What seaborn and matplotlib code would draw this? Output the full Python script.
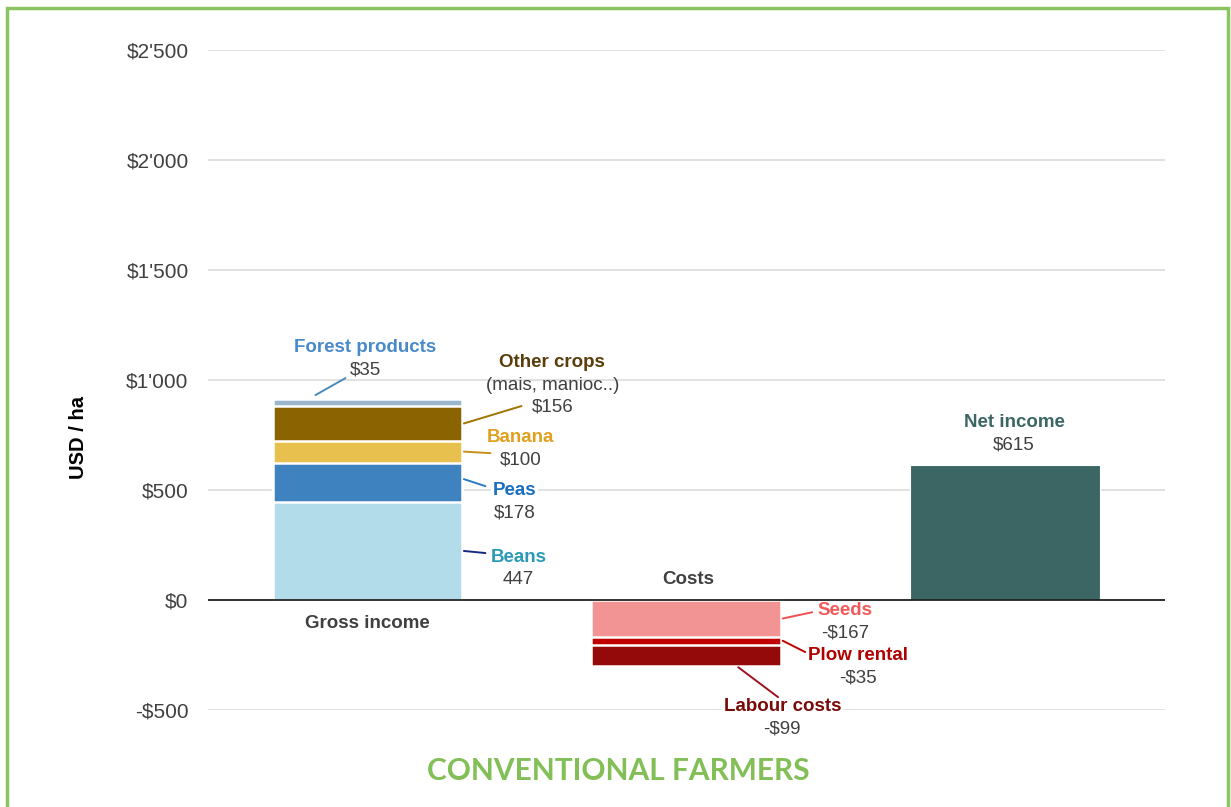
import numpy as np
import pandas as pd
import matplotlib
matplotlib.use("Agg")
import matplotlib.pyplot as plt
from matplotlib.patches import Rectangle
from matplotlib.ticker import FuncFormatter
import seaborn as sns

# ---- data ----
categories = ["Gross income", "Costs", "Net income"]
gross_labels = ["Beans", "Peas", "Banana", "Other crops", "Forest products"]
gross_values = [447, 178, 100, 156, 35]
gross_value_text = ["447", "$178", "$100", "$156", "$35"]
cost_labels = ["Seeds", "Plow rental", "Labour costs"]
cost_values = [-167, -35, -99]
net_label = "Net income"
net_value = 615
y_ticks = [-500, 0, 500, 1000, 1500, 2000, 2500]

# ---- styles ----
gross_colors = ["#b3dcea", "#3f82c0", "#e8c04e", "#8b6300", "#9ab6cc"]
gross_text_colors = ["#2a9ab8", "#1a6fc0", "#e0a020", "#5a3d0a", "#4a8ac9"]
gross_line_colors = ["#1a2a80", "#2a7ac8", "#c8901a", "#a07400", "#4a8ab8"]
cost_colors = ["#f29494", "#c00000", "#940a0a"]
cost_text_colors = ["#f05a5a", "#b00000", "#7a0a0a"]
cost_line_colors = ["#f05050", "#c00000", "#a01020"]
net_color = "#3b6664"
gray = "#404040"

sns.set_theme(style="white")
plt.rcParams["font.family"] = ["Liberation Sans", "DejaVu Sans"]

fig = plt.figure(figsize=(12.31, 8.07), dpi=100)
ax = fig.add_axes([0.169, 0.120, 0.777, 0.818])

BW = 0.595
# gross income stacked: draw cumulative totals from the top down
gross_cum = np.cumsum(gross_values)
for i in reversed(range(len(gross_values))):
    df = pd.DataFrame({"cat": [categories[0]], "val": [gross_cum[i]]})
    sns.barplot(data=df, x="cat", y="val", order=categories, color=gross_colors[i],
                saturation=1, width=BW, edgecolor="white", linewidth=1.8,
                errorbar=None, ax=ax)

cost_cum = np.cumsum(cost_values)
for i in reversed(range(len(cost_values))):
    df = pd.DataFrame({"cat": [categories[1]], "val": [cost_cum[i]]})
    sns.barplot(data=df, x="cat", y="val", order=categories, color=cost_colors[i],
                saturation=1, width=BW, edgecolor="white", linewidth=1.8,
                errorbar=None, ax=ax)

df = pd.DataFrame({"cat": [categories[2]], "val": [net_value]})
sns.barplot(data=df, x="cat", y="val", order=categories, color=net_color,
            saturation=1, width=BW, edgecolor="white", linewidth=0.8,
            errorbar=None, ax=ax)

# ---- axes styling ----
ax.set_xlim(-0.5, 2.5)
ax.set_ylim(-500, 2500)
ax.set_yticks(y_ticks)

def fmt(v, pos):
    v = int(round(v))
    s = f"{abs(v):,}".replace(",", "'")
    return f"-${s}" if v < 0 else f"${s}"

ax.yaxis.set_major_formatter(FuncFormatter(fmt))
ax.set_xticks([])
ax.set_xlabel("")
ax.set_ylabel("")
ax.tick_params(axis="y", left=False, pad=8, labelsize=15, labelcolor=gray)
for s in ax.spines.values():
    s.set_visible(False)
ax.yaxis.grid(True, color="#d9d9d9", linewidth=1.1)
ax.set_axisbelow(True)
ax.axhline(0, color="#222222", linewidth=1.3, zorder=5)

# ---- annotations ----
name_fs = 13.5
val_fs = 13.5

def label(anchor, line_end, name_pos, val_pos, name, val, tcolor, lcolor, extra=None, box=False):
    if anchor is not None:
        ax.plot([anchor[0], line_end[0]], [anchor[1], line_end[1]], color=lcolor,
                linewidth=1.4, zorder=6)
    kw = {}
    if box:
        kw["bbox"] = dict(facecolor="white", edgecolor="none", pad=1.5)
    ax.text(name_pos[0], name_pos[1], name, color=tcolor, fontsize=name_fs,
            fontweight="bold", ha="center", va="center", zorder=4, **kw)
    if extra is not None:
        ax.text(extra[0][0], extra[0][1], extra[1], color=gray, fontsize=val_fs,
                ha="center", va="center", zorder=7)
    ax.text(val_pos[0], val_pos[1], val, color=gray, fontsize=val_fs,
            ha="center", va="center", zorder=7)

edge = BW / 2
gross_bottoms = np.concatenate([[0], gross_cum[:-1]])
gross_mids = gross_bottoms + np.array(gross_values) / 2

# Beans
label((edge + 0.005, gross_mids[0]), (0.37, 214), (0.473, 195), (0.473, 95),
      gross_labels[0], gross_value_text[0], gross_text_colors[0], gross_line_colors[0])
# Peas
label((edge + 0.005, gross_mids[1] + 14), (0.37, 518), (0.461, 500), (0.461, 395),
      gross_labels[1], gross_value_text[1], gross_text_colors[1], gross_line_colors[1], box=True)
# Banana
label((edge + 0.005, gross_mids[2]), (0.386, 668), (0.48, 741), (0.48, 636),
      gross_labels[2], gross_value_text[2], gross_text_colors[2], gross_line_colors[2])
# Other crops
label((edge + 0.005, gross_mids[3]), (0.483, 882), (0.58, 1082), (0.58, 877),
      gross_labels[3], gross_value_text[3], gross_text_colors[3], gross_line_colors[3],
      extra=((0.58, 977), "(mais, manioc..)"))
# Forest products
label((-0.163, gross_cum[-1] + 16), (-0.069, 1009), (-0.006, 1150), (-0.006, 1045),
      gross_labels[4], gross_value_text[4], gross_text_colors[4], gross_line_colors[4])

cost_bottoms = np.concatenate([[0], cost_cum[:-1]])
cost_mids = cost_bottoms + np.array(cost_values) / 2
# Seeds
label((1 + edge + 0.005, cost_mids[0]), (1.395, -55), (1.498, -45), (1.498, -150),
      cost_labels[0], f"-${abs(cost_values[0])}", cost_text_colors[0], cost_line_colors[0])
# Plow rental
label((1 + edge + 0.005, cost_mids[1]), (1.373, -236), (1.539, -250), (1.539, -355),
      cost_labels[1], f"-${abs(cost_values[1])}", cost_text_colors[1], cost_line_colors[1])
# Labour costs
label((1.163, cost_cum[-1] - 4), (1.288, -441), (1.301, -482), (1.301, -586),
      cost_labels[2], f"-${abs(cost_values[2])}", cost_text_colors[2], cost_line_colors[2], box=True)

# Net income
ax.text(2.028, 809, net_label, color=net_color, fontsize=name_fs, fontweight="bold",
        ha="center", va="center")
ax.text(2.028, 705, f"${net_value}", color=gray, fontsize=val_fs, ha="center", va="center")

# category labels
ax.text(0, -105, categories[0], color=gray, fontsize=13.5, fontweight="bold",
        ha="center", va="center")
ax.text(1.006, 95, categories[1], color=gray, fontsize=13.5, fontweight="bold",
        ha="center", va="center")

# y axis label
fig.text(78 / 1231, 1 - 437 / 807, "USD / ha", rotation=90, fontsize=14.5,
         fontweight="bold", color="black", ha="center", va="center")

# title
fig.text(618 / 1231, 1 - 771 / 807, "CONVENTIONAL FARMERS", color="#82bf56",
         fontsize=21.5, fontweight="bold", family=["Lato", "DejaVu Sans"],
         ha="center", va="center")

# green frame
fig.patches.append(Rectangle((7 / 1231, -0.02), 1221 / 1231, 1.01, transform=fig.transFigure,
                             fill=False, edgecolor="#8cc462", linewidth=2.5))

fig.savefig("out.png", dpi=100)
